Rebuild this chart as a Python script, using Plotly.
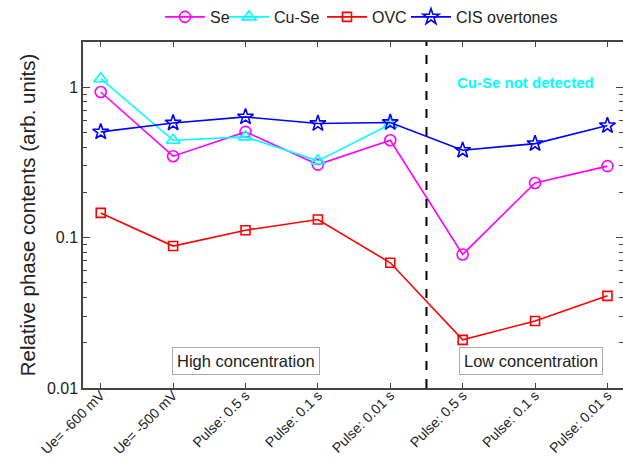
import plotly.graph_objects as go

# Sample conditions along the x axis
conditions = ["Ue= -600 mV", "Ue= -500 mV", "Pulse: 0.5 s", "Pulse: 0.1 s",
              "Pulse: 0.01 s", "Pulse: 0.5 s", "Pulse: 0.1 s", "Pulse: 0.01 s"]
x_idx = list(range(len(conditions)))

# Relative phase contents (arb. units)
se_vals = [0.93, 0.348, 0.505, 0.306, 0.444, 0.0773, 0.231, 0.299]
cuse_vals = [1.14, 0.444, 0.468, 0.324, 0.568]          # not detected at low concentration
ovc_vals = [0.146, 0.0879, 0.112, 0.132, 0.068, 0.0209, 0.0279, 0.041]
cis_vals = [0.505, 0.579, 0.635, 0.574, 0.583, 0.381, 0.422, 0.556]

FONT = "Liberation Sans, Arial, sans-serif"
AXIS_COLOR = "#444444"
TEXT_COLOR = "#222222"

fig = go.Figure()

# name, values, colour, marker, marker size, legend id, legend x (px)
series = [
    ("Se", se_vals, "#FF00FF", "circle-open", 11, "legend", 160),
    ("Cu-Se", cuse_vals, "#00FFFF", "triangle-up-open", 12, "legend2", 224),
    ("OVC", ovc_vals, "#FF0000", "square-open", 9, "legend3", 322),
    ("CIS overtones", cis_vals, "#0000FF", "star-open", 12, "legend4", 406),
]
legend_cfg = {}
for name, vals, color, symbol, size, leg, lx in series:
    fig.add_trace(go.Scatter(
        x=x_idx[:len(vals)], y=vals, name=name, mode="lines+markers",
        line=dict(color=color, width=1.6),
        marker=dict(symbol=symbol, size=size, color=color,
                    line=dict(color=color, width=1.6)),
        legend=leg,
    ))
    legend_cfg[leg] = dict(
        orientation="h", xref="container", yref="container",
        x=lx / 623, y=1.0, xanchor="left", yanchor="top",
        font=dict(family=FONT, size=16, color=TEXT_COLOR),
        itemwidth=40, bgcolor="rgba(0,0,0,0)",
    )

# Separator between high and low concentration series
fig.add_shape(type="line", xref="x", yref="paper", x0=4.5, x1=4.5, y0=0, y1=1,
              line=dict(color="black", width=2, dash="dash"))

fig.add_annotation(x=5.87, y=0.035, xref="x", yref="y", yanchor="middle",
                   text="<b>Cu-Se not detected</b>", showarrow=False,
                   font=dict(family=FONT, size=15, color="#00FFFF"))
fig.add_annotation(x=2.0, y=-1.82, xref="x", yref="y",
                   text="High concentration", showarrow=False,
                   bordercolor="#AAAAAA", borderwidth=1, borderpad=4, bgcolor="white",
                   font=dict(family=FONT, size=16.5, color=TEXT_COLOR))
fig.add_annotation(x=5.94, y=-1.82, xref="x", yref="y",
                   text="Low concentration", showarrow=False,
                   bordercolor="#AAAAAA", borderwidth=1, borderpad=4, bgcolor="white",
                   font=dict(family=FONT, size=16.5, color=TEXT_COLOR))

minor_vals = [m * d for d in (0.01, 0.1) for m in range(2, 10)] + [2.0]

fig.update_layout(
    width=623, height=459,
    margin=dict(l=83, r=0, t=42, b=71),
    plot_bgcolor="white", paper_bgcolor="white",
    font=dict(family=FONT, size=15, color=TEXT_COLOR),
    showlegend=True,
    xaxis=dict(
        range=[-0.245, 7.215], tickmode="array", tickvals=x_idx, ticktext=conditions,
        tickangle=-45, tickfont=dict(family=FONT, size=14, color=TEXT_COLOR),
        ticklabelstandoff=-8,
        showline=True, linecolor=AXIS_COLOR, linewidth=1.5, mirror="ticks",
        ticks="inside", ticklen=5, tickcolor=AXIS_COLOR, tickwidth=1.2,
        showgrid=False, zeroline=False, automargin=False,
    ),
    yaxis=dict(
        type="log", range=[-2, 0.301],
        tickmode="array", tickvals=[0.01, 0.1, 1], ticktext=["0.01", "0.1", "1"],
        tickfont=dict(family=FONT, size=16, color=TEXT_COLOR),
        title=dict(text="Relative phase contents (arb. units)",
                   font=dict(family=FONT, size=20.5, color=TEXT_COLOR), standoff=6),
        showline=True, linecolor=AXIS_COLOR, linewidth=1.5, mirror="allticks",
        ticks="inside", ticklen=7, tickcolor=AXIS_COLOR, tickwidth=1.2,
        minor=dict(tickmode="array", tickvals=minor_vals, ticks="inside",
                   ticklen=4, tickcolor=AXIS_COLOR, tickwidth=1, showgrid=False),
        showgrid=False, zeroline=False, automargin=False,
    ),
    **legend_cfg,
)

fig.write_html("out.html")
